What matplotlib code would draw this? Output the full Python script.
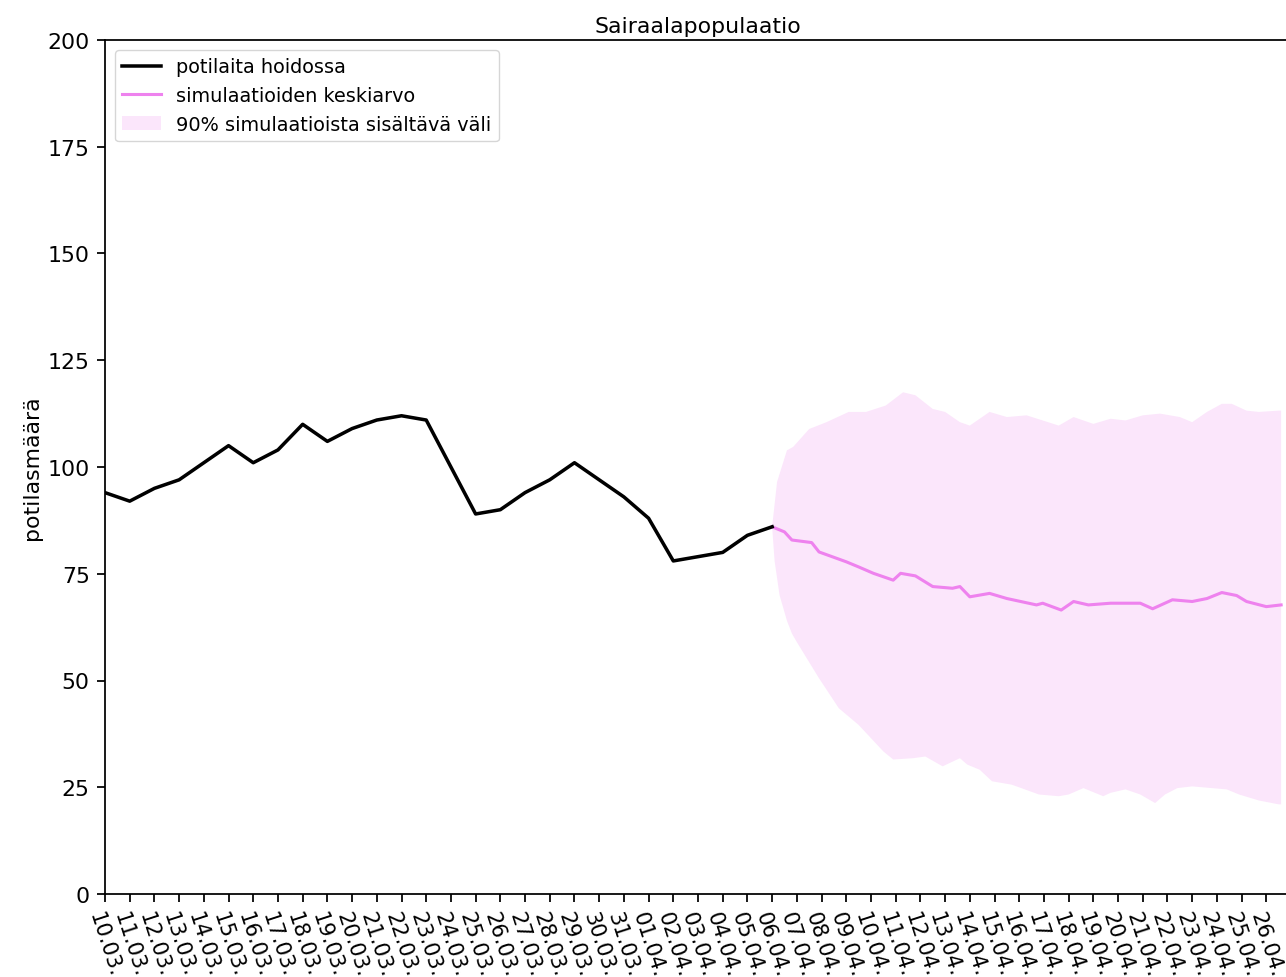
import numpy as np
import pandas as pd
import matplotlib
matplotlib.use("Agg")
import matplotlib.pyplot as plt

# Observed hospital population, one value per day from 10.03. to 06.04.
observed_days = list(range(28))
observed_counts = [94, 92, 95, 97, 101, 105, 101, 104, 110, 106, 109, 111, 112, 111,
                   100, 89, 90, 94, 97, 101, 97, 93, 88, 78, 79, 80, 84, 86]

# Simulation mean (time in days since 10.03.)
mean_days = [27.0, 27.5, 27.8, 28.6, 28.9, 30.0, 30.5, 31.1, 31.9, 32.2, 32.8, 33.5,
             34.3, 34.6, 35.0, 35.8, 36.5, 37.7, 37.95, 38.7, 39.2, 39.8, 40.7, 41.9,
             42.4, 43.2, 44.0, 44.6, 45.2, 45.8, 46.2, 47.0, 47.6]
mean_values = [86.0, 84.8, 82.9, 82.3, 80.1, 77.8, 76.6, 75.1, 73.5, 75.1, 74.5, 72.0,
               71.6, 72.0, 69.6, 70.4, 69.2, 67.7, 68.1, 66.5, 68.5, 67.7, 68.1, 68.1,
               66.8, 68.9, 68.5, 69.2, 70.6, 69.9, 68.5, 67.3, 67.7]

# Upper edge of the 90 % interval
upper_days = [27.0, 27.2, 27.6, 27.85, 28.5, 29.2, 30.1, 30.8, 31.6, 32.3, 32.8, 33.5,
              34.0, 34.6, 35.0, 35.8, 36.5, 37.3, 37.95, 38.6, 39.2, 40.0, 40.7, 41.3,
              42.0, 42.7, 43.5, 44.0, 44.6, 45.2, 45.6, 46.2, 46.7, 47.5, 47.6]
upper_values = [86.0, 96.5, 103.9, 104.7, 108.9, 110.5, 112.9, 112.9, 114.4, 117.5, 116.8,
                113.6, 112.9, 110.5, 109.7, 112.9, 111.7, 112.1, 110.9, 109.7, 111.7,
                110.1, 111.3, 110.9, 112.1, 112.5, 111.7, 110.5, 112.9, 114.8, 114.8,
                113.2, 112.9, 113.2, 113.2]

# Lower edge of the 90 % interval
lower_days = [27.0, 27.1, 27.3, 27.6, 27.8, 28.0, 28.9, 29.7, 30.5, 31.5, 31.9, 32.7,
              33.2, 33.9, 34.6, 34.9, 35.4, 35.9, 36.7, 37.8, 38.6, 39.0, 39.6, 40.4,
              40.7, 41.3, 41.9, 42.5, 42.9, 43.4, 44.0, 44.8, 45.4, 45.9, 46.7, 47.5,
              47.6]
lower_values = [86.0, 78.0, 70.0, 64.0, 61.0, 59.0, 50.5, 43.5, 39.6, 33.4, 31.5, 31.8,
                32.2, 29.9, 31.8, 30.3, 29.1, 26.4, 25.6, 23.3, 22.9, 23.3, 24.8, 22.9,
                23.7, 24.5, 23.3, 21.3, 23.3, 24.8, 25.2, 24.8, 24.5, 23.3, 21.9, 21.0,
                21.0]

tick_dates = pd.date_range("2020-03-10", "2020-04-26", freq="D")
tick_labels = [d.strftime("%d.%m.") for d in tick_dates]
y_ticks = [0, 25, 50, 75, 100, 125, 150, 175, 200]
x_max = 48  # 27.04.

S = 1.58
plt.rcParams.update({
    "font.family": "DejaVu Sans",
    "font.size": 10 * S,
    "axes.linewidth": 0.8 * S,
    "xtick.major.size": 3.5 * S,
    "ytick.major.size": 3.5 * S,
    "xtick.major.width": 0.8 * S,
    "ytick.major.width": 0.8 * S,
    "xtick.major.pad": 3.5 * S,
    "ytick.major.pad": 3.5 * S,
})

fig = plt.figure(figsize=(12.86, 9.78), dpi=100)
ax = fig.add_axes([105 / 1286, 1 - 895 / 978, 1186 / 1286, 854 / 978])

ax.plot(observed_days, observed_counts, color="black", lw=1.6 * S,
        label="potilaita hoidossa", zorder=3)
band_x = np.concatenate([upper_days, lower_days[::-1]])
band_y = np.concatenate([upper_values, lower_values[::-1]])
ax.fill(band_x, band_y, color="violet", alpha=0.2, lw=0,
        label="90% simulaatioista sisältävä väli", zorder=1)
ax.plot(mean_days, mean_values, color="violet", lw=1.4 * S,
        label="simulaatioiden keskiarvo", zorder=2)

ax.set_xlim(0, x_max)
ax.set_ylim(0, 200)
ax.set_yticks(y_ticks)
ax.set_xticks(range(len(tick_dates)))
ax.set_xticklabels(tick_labels, rotation=-72, fontsize=9.6 * S)
ax.set_ylabel("potilasmäärä")
ax.set_title("Sairaalapopulaatio", fontsize=10 * S)

handles, labels = ax.get_legend_handles_labels()
order = [0, 2, 1]
ax.legend([handles[i] for i in order], [labels[i] for i in order],
          loc="upper left", fontsize=8.8 * S)

fig.savefig("out.png", dpi=100)
